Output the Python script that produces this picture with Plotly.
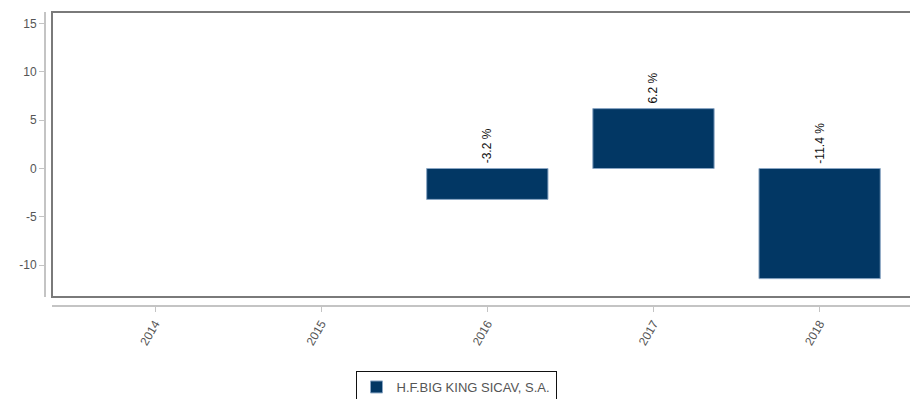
import plotly.graph_objects as go

years = ["2014", "2015", "2016", "2017", "2018"]
returns = [None, None, -3.2, 6.2, -11.4]
fund_name = "H.F.BIG KING SICAV, S.A."
y_ticks = [-10, -5, 0, 5, 10, 15]

# the page body adds an 8px margin, so the figure is sized to fit inside it
W, H = 910, 391
ml, mr, mt, mb = 37, 2, 4, 93
pw = W - ml - mr
ph = H - mt - mb

fig = go.Figure()
fig.add_trace(go.Bar(
    x=years, y=returns, name=fund_name, width=0.73,
    marker=dict(color="#023764", line=dict(color="#8aa6c4", width=1)),
))

# value labels, rotated, sitting on the zero line or the bar top
for i, v in enumerate(returns):
    if v is None:
        continue
    fig.add_annotation(
        x=i, y=max(v, 0), text=f"{v:.1f} %", textangle=-90,
        showarrow=False, yanchor="bottom", xanchor="center", yshift=3,
        font=dict(family="Liberation Sans, Arial", size=12, color="#111"),
    )

# plot frame
fig.add_shape(type="rect", xref="x domain", yref="y domain", x0=0, x1=1, y0=0, y1=1,
              line=dict(color="#7a7a7a", width=2), fillcolor="rgba(0,0,0,0)")

fig.update_layout(
    width=W, height=H,
    margin=dict(l=ml, r=mr, t=mt, b=mb, autoexpand=False),
    paper_bgcolor="white", plot_bgcolor="white",
    font=dict(family="Liberation Sans, Arial", size=11, color="#555"),
    showlegend=True,
    legend=dict(
        orientation="h", x=(456 - 45) / pw, xanchor="center",
        y=(306 - 371) / ph, yanchor="top",
        bordercolor="#111", borderwidth=1, bgcolor="white",
        font=dict(size=13, color="#555"),
    ),
    xaxis=dict(
        type="category", domain=[7 / pw, 1], range=[-0.62, 4.58],
        anchor="free", position=0, automargin=False,
        showline=True, linecolor="#c4c4c4", linewidth=2,
        ticks="outside", ticklen=5, tickcolor="#c4c4c4",
        tickangle=-60, showgrid=False, zeroline=False,
        tickfont=dict(size=12, color="#555"),
    ),
    yaxis=dict(
        domain=[9 / ph, 1], range=[-13.3, 16.2],
        anchor="free", position=0, automargin=False,
        tickvals=y_ticks, ticktext=[str(t) for t in y_ticks],
        showline=True, linecolor="#c4c4c4", linewidth=2,
        ticks="outside", ticklen=5, tickcolor="#c4c4c4",
        showgrid=False, zeroline=False,
        tickfont=dict(size=12, color="#555"),
    ),
)

fig.write_html("out.html")
